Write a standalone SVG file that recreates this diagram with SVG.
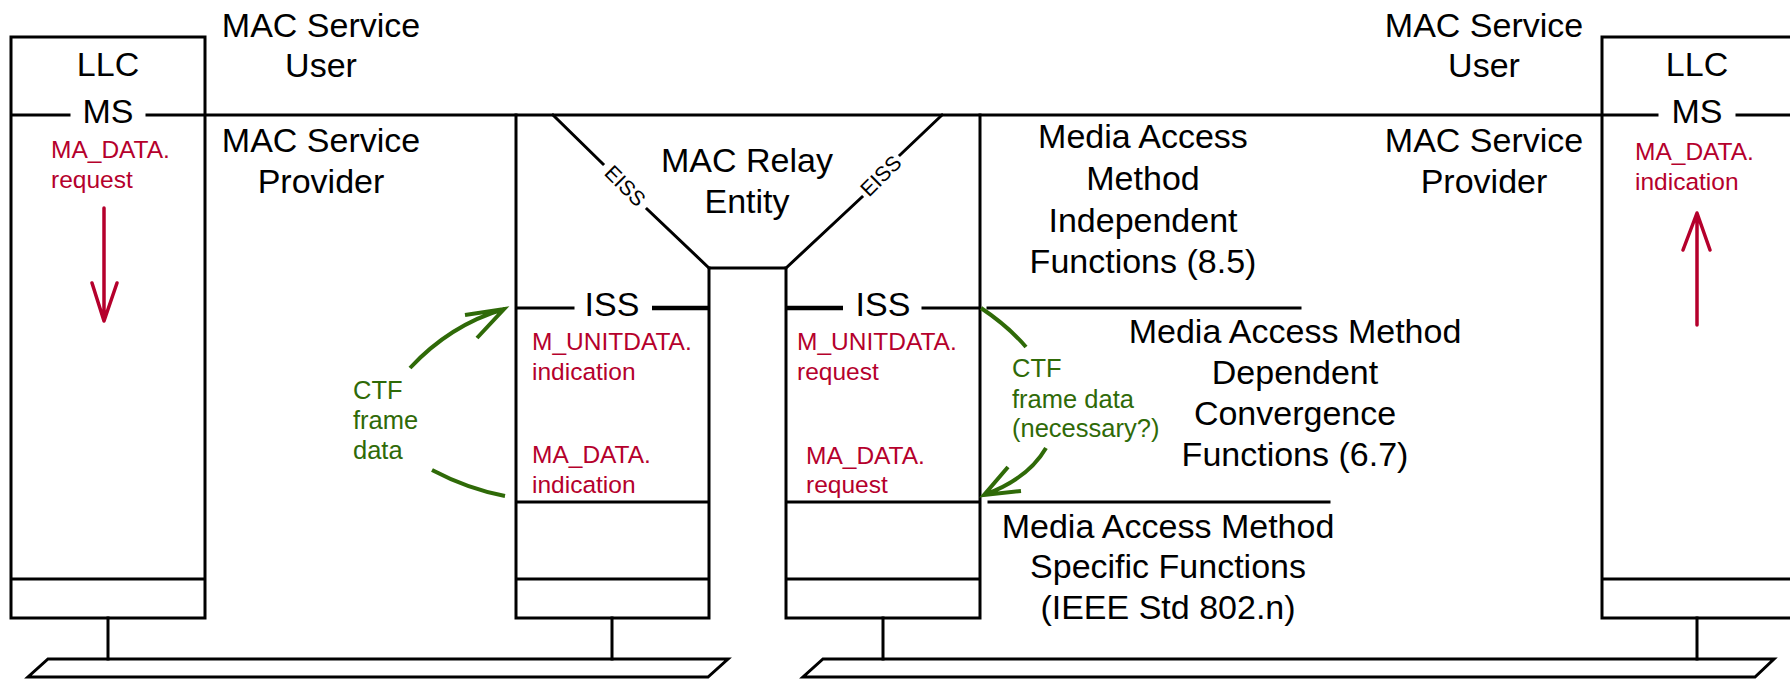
<svg xmlns="http://www.w3.org/2000/svg" width="1790" height="679" viewBox="0 0 1790 679">
<style>
.ln{stroke:#000;stroke-width:3;fill:none;stroke-linecap:square}
.lt{stroke:#000;stroke-width:4.5;fill:none}
.t{font-family:"Liberation Sans",Arial,sans-serif;font-size:34px;fill:#000;text-anchor:middle}
.e{font-family:"Liberation Sans",Arial,sans-serif;font-size:21px;fill:#000;text-anchor:middle}
.r{font-family:"Liberation Sans",Arial,sans-serif;font-size:24.5px;fill:#b5002c}
.g{font-family:"Liberation Sans",Arial,sans-serif;font-size:25.5px;fill:#2f6a08}
.ra{stroke:#b5002c;stroke-width:3.5;fill:none;stroke-linecap:round;stroke-linejoin:round}
.ga{stroke:#2f6a08;stroke-width:4;fill:none;stroke-linecap:butt;stroke-linejoin:miter}
</style>

<g id="main-line">
<path class="ln" d="M147 115 H1657"/>
</g>

<g id="llc-left">
<path class="ln" d="M11 618 V37 H205 V618 Z M11 579 H205 M11 115 H69"/>
<text class="t" x="108" y="76">LLC</text>
<text class="t" x="108" y="123">MS</text>
<text class="r" x="51" y="158">MA_DATA.</text>
<text class="r" x="51" y="188">request</text>
</g>

<g id="llc-right">
<path class="ln" d="M1792 37 H1602 V618 H1792 M1602 579 H1792 M1737 115 H1792"/>
<text class="t" x="1697" y="76">LLC</text>
<text class="t" x="1697" y="123">MS</text>
<text class="r" x="1635" y="160">MA_DATA.</text>
<text class="r" x="1635" y="190">indication</text>
</g>

<g id="labels">
<text class="t" x="321" y="37">MAC Service</text>
<text class="t" x="321" y="77">User</text>
<text class="t" x="321" y="152">MAC Service</text>
<text class="t" x="321" y="193">Provider</text>
<text class="t" x="1484" y="37">MAC Service</text>
<text class="t" x="1484" y="77">User</text>
<text class="t" x="1484" y="152">MAC Service</text>
<text class="t" x="1484" y="193">Provider</text>
<text class="t" x="1143" y="148">Media Access</text>
<text class="t" x="1143" y="190">Method</text>
<text class="t" x="1143" y="232">Independent</text>
<text class="t" x="1143" y="273">Functions (8.5)</text>
<text class="t" x="1295" y="343">Media Access Method</text>
<text class="t" x="1295" y="384">Dependent</text>
<text class="t" x="1295" y="425">Convergence</text>
<text class="t" x="1295" y="466">Functions (6.7)</text>
<text class="t" x="1168" y="538">Media Access Method</text>
<text class="t" x="1168" y="578">Specific Functions</text>
<text class="t" x="1168" y="619">(IEEE Std 802.n)</text>
<path class="ln" d="M988 308 H1300 M989 502 H1329"/>
</g>

<g id="relay">
<path class="ln" d="M553 115 L603 164 M647 209 L709 268 H786 L862 197 M900 155 L942 115"/>
<text class="e" transform="translate(625 186) rotate(45)" y="7">EISS</text>
<text class="e" transform="translate(881 176) rotate(-45)" y="7">EISS</text>
<text class="t" x="747" y="172">MAC Relay</text>
<text class="t" x="747" y="213">Entity</text>
</g>

<g id="bridge-port-left">
<path class="ln" d="M516 115 V618 H709 V268 M516 502 H709 M516 579 H709 M516 308 H573"/>
<path class="lt" d="M652 308 H709"/>
<text class="t" x="612" y="316">ISS</text>
<text class="r" x="532" y="350">M_UNITDATA.</text>
<text class="r" x="532" y="380">indication</text>
<text class="r" x="532" y="463">MA_DATA.</text>
<text class="r" x="532" y="493">indication</text>
</g>

<g id="bridge-port-right">
<path class="ln" d="M980 115 V618 H786 V268 M786 502 H980 M786 579 H980 M923 308 H980"/>
<path class="lt" d="M786 308 H843"/>
<text class="t" x="883" y="316">ISS</text>
<text class="r" x="797" y="350">M_UNITDATA.</text>
<text class="r" x="797" y="380">request</text>
<text class="r" x="806" y="464">MA_DATA.</text>
<text class="r" x="806" y="493">request</text>
</g>

<g id="lan-left">
<path class="ln" d="M108 618 V659 M612 618 V659"/>
<path class="ln" d="M48 659 H728 L708 677 H28 Z"/>
</g>

<g id="lan-right">
<path class="ln" d="M883 618 V659 M1697 618 V659"/>
<path class="ln" d="M823 659 H1774 L1755 677 H803 Z"/>
</g>

<g id="connectors">
<path class="ra" d="M104 208 V321 M92 283 L104 321 L117 283"/>
<path class="ra" d="M1697 325 V213 M1683 250 L1697 213 L1710 250"/>
<path class="ga" d="M410 368 Q450 325 504 309 M465 315 L504 309 L477 338"/>
<path class="ga" d="M432 470 Q468 489 505 496"/>
<path class="ga" d="M981 308 Q1008 326 1026 347"/>
<path class="ga" d="M1046 448 Q1028 479 984 495 M1008 467 L984 495 L1021 491"/>
<text class="g" x="353" y="399">CTF</text>
<text class="g" x="353" y="429">frame</text>
<text class="g" x="353" y="459">data</text>
<text class="g" x="1012" y="377">CTF</text>
<text class="g" x="1012" y="408">frame data</text>
<text class="g" x="1012" y="437">(necessary?)</text>
</g>
</svg>
